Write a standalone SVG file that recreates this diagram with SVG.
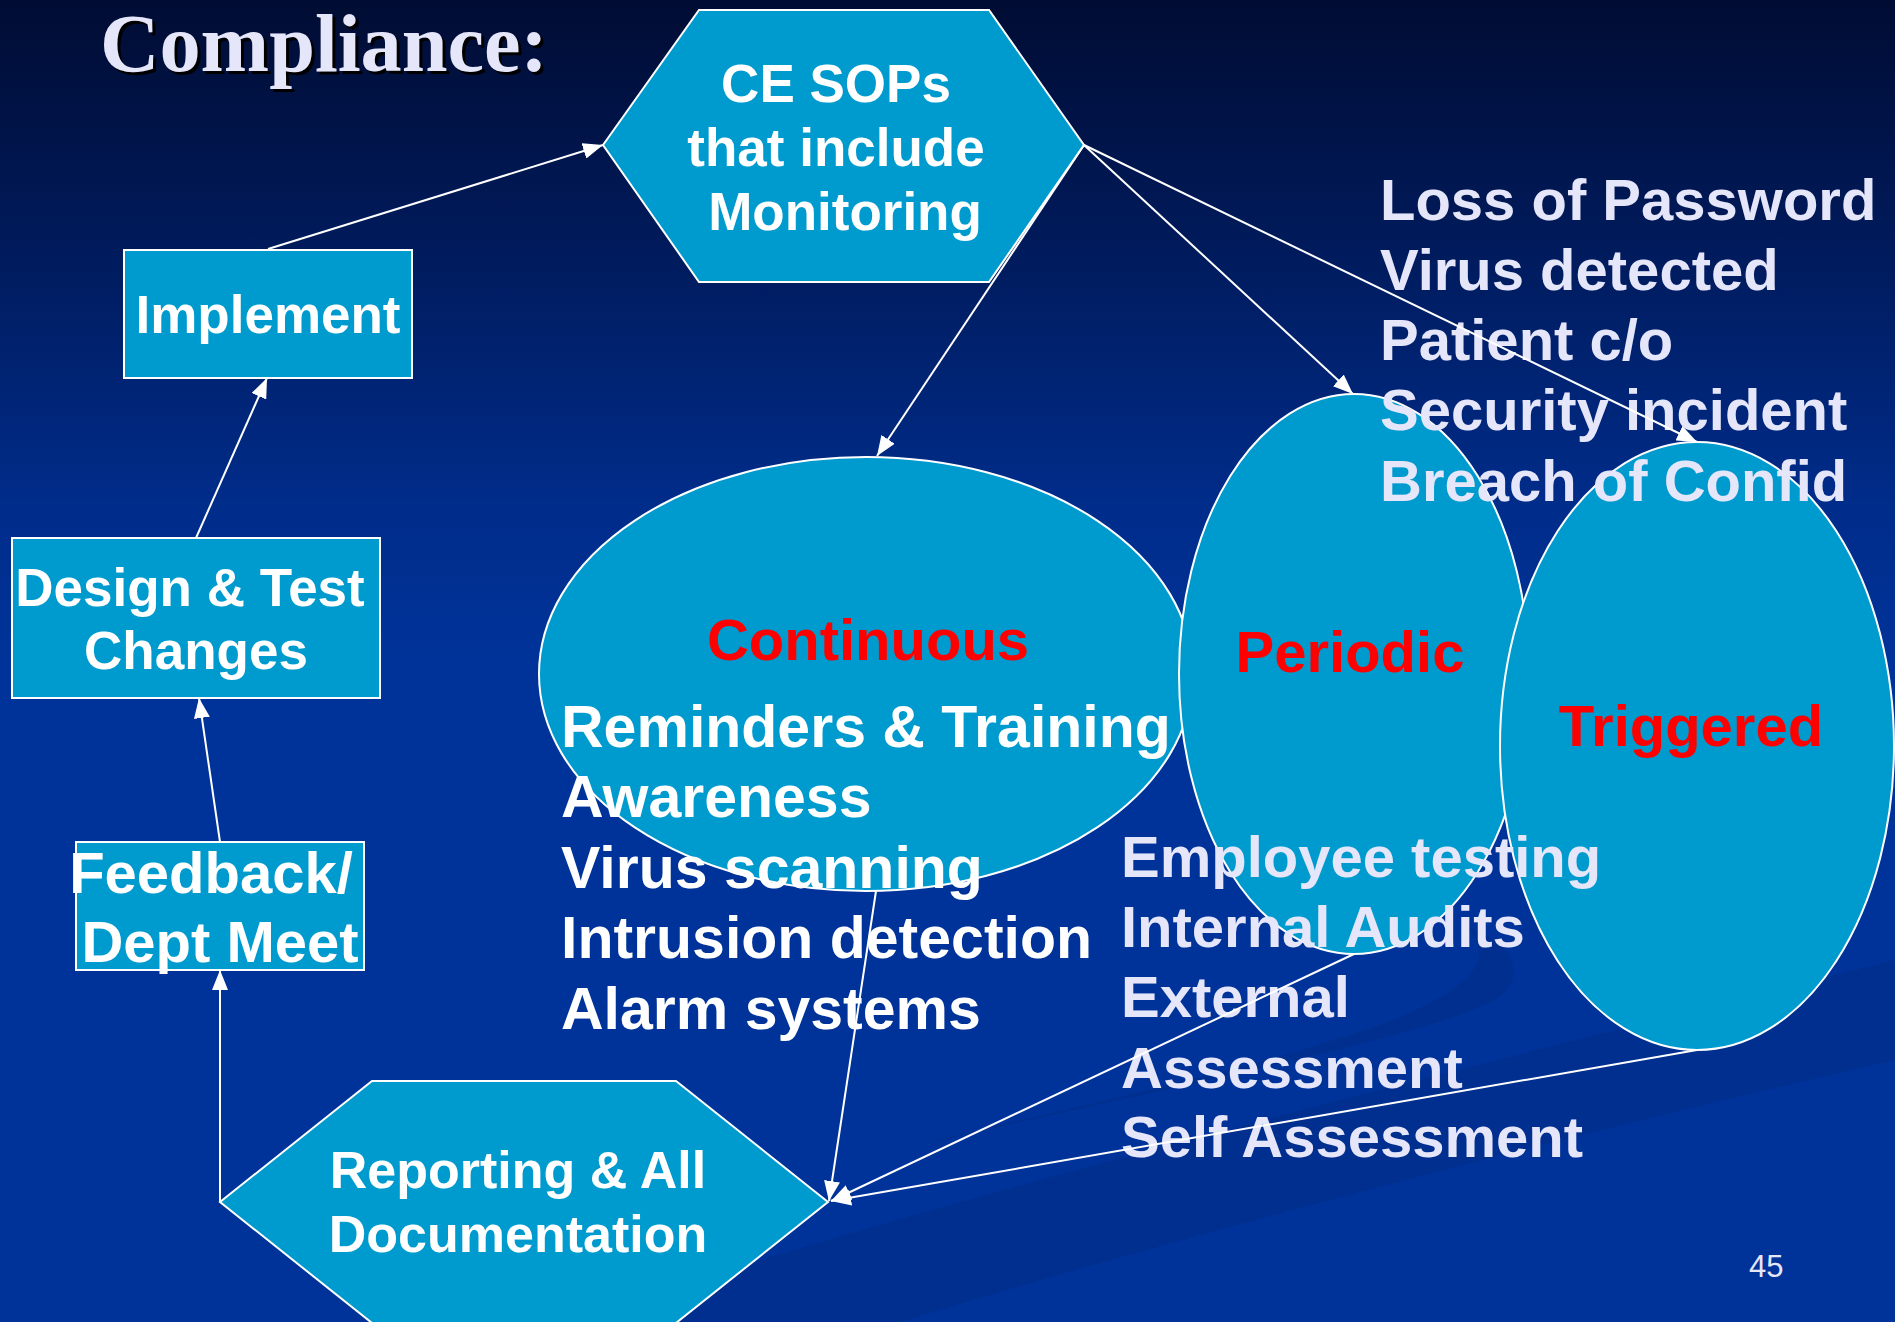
<svg xmlns="http://www.w3.org/2000/svg" width="1895" height="1322" viewBox="0 0 1895 1322">
  <defs>
    <linearGradient id="bg" x1="0" y1="0" x2="0" y2="1">
      <stop offset="0" stop-color="#000C33"/>
      <stop offset="0.18" stop-color="#001A5A"/>
      <stop offset="0.38" stop-color="#002C8A"/>
      <stop offset="0.5" stop-color="#003399"/>
      <stop offset="1" stop-color="#003399"/>
    </linearGradient>
    <marker id="arrow" viewBox="0 0 20 16" refX="20" refY="8" markerWidth="20" markerHeight="16" markerUnits="userSpaceOnUse" orient="auto">
      <path d="M0,0 L20,8 L0,16 Z" fill="#FFFFFF"/>
    </marker>
    <style>
      .shape { fill: #009BCE; stroke: #FFFFFF; stroke-width: 2; }
      .label { font-family: "Liberation Sans", Arial, sans-serif; font-weight: bold; fill: #FFFFFF; text-anchor: middle; }
      .red { font-family: "Liberation Sans", Arial, sans-serif; font-weight: bold; fill: #FF0000; text-anchor: middle; font-size: 58px; }
      .list { font-family: "Liberation Sans", Arial, sans-serif; font-weight: bold; font-size: 59px; fill: #FFFFFF; }
      .lav { font-family: "Liberation Sans", Arial, sans-serif; font-weight: bold; font-size: 58px; fill: #E6E6FA; }
      .conn { stroke: #FFFFFF; stroke-width: 2; fill: none; marker-end: url(#arrow); }
      .title { font-family: "Liberation Serif", "Times New Roman", serif; font-weight: bold; font-size: 82px; }
    </style>
  </defs>

  <!-- background with soft swooshes -->
  <rect x="0" y="0" width="1895" height="1322" fill="url(#bg)"/>
  <path d="M560 1322 C1000 1180 1500 1060 1895 960 L1895 1060 C1500 1150 1100 1260 900 1322 Z" fill="#002C86" opacity="0.55"/>
  <path d="M900 1150 C1150 1090 1420 1040 1495 1000 C1530 975 1515 945 1465 925 C1500 960 1470 990 1380 1025 C1220 1080 1050 1110 900 1150 Z" fill="#002C86" opacity="0.5"/>

  <!-- title with drop shadow -->
  <text class="title" x="103" y="74" fill="#000000" textLength="448" lengthAdjust="spacingAndGlyphs">Compliance:</text>
  <text class="title" x="100" y="71" fill="#E6E6FA" textLength="448" lengthAdjust="spacingAndGlyphs">Compliance:</text>

  <!-- nodes -->
  <g id="ce-sops">
    <polygon class="shape" points="603,145 699,10 989,10 1084,145 989,282 699,282"/>
    <text class="label" font-size="53" x="836" y="102">CE SOPs</text>
    <text class="label" font-size="53" x="836" y="166">that include</text>
    <text class="label" font-size="53" x="845" y="230">Monitoring</text>
  </g>

  <g id="implement">
    <rect class="shape" x="124" y="250" width="288" height="128"/>
    <text class="label" font-size="53" x="268" y="333">Implement</text>
  </g>

  <g id="design-test">
    <rect class="shape" x="12" y="538" width="368" height="160"/>
    <text class="label" font-size="53" x="190" y="606">Design &amp; Test</text>
    <text class="label" font-size="53" x="196" y="669">Changes</text>
  </g>

  <g id="feedback">
    <rect class="shape" x="76" y="842" width="288" height="128"/>
    <text class="label" font-size="58" x="211" y="893">Feedback/</text>
    <text class="label" font-size="58" x="220" y="962">Dept Meet</text>
  </g>

  <g id="reporting">
    <polygon class="shape" points="220,1202 372,1081 676,1081 828,1202 676,1323 372,1323"/>
    <text class="label" font-size="52" x="518" y="1188">Reporting &amp; All</text>
    <text class="label" font-size="52" x="518" y="1252">Documentation</text>
  </g>

  <g id="continuous">
    <ellipse class="shape" cx="866" cy="674" rx="327" ry="217"/>
    <text class="red" x="868" y="660">Continuous</text>
  </g>

  <g id="periodic">
    <ellipse class="shape" cx="1354" cy="674" rx="175" ry="280"/>
    <text class="red" x="1350" y="672">Periodic</text>
  </g>

  <g id="triggered">
    <ellipse class="shape" cx="1697" cy="746" rx="197" ry="304"/>
    <text class="red" x="1691" y="746">Triggered</text>
  </g>

  <!-- item lists -->
  <g id="continuous-items" class="list">
    <text x="561" y="747">Reminders &amp; Training</text>
    <text x="561" y="817">Awareness</text>
    <text x="561" y="888">Virus scanning</text>
    <text x="561" y="958">Intrusion detection</text>
    <text x="561" y="1029">Alarm systems</text>
  </g>

  <g id="triggered-items" class="lav">
    <text x="1380" y="220">Loss of Password</text>
    <text x="1380" y="290">Virus detected</text>
    <text x="1380" y="360">Patient c/o</text>
    <text x="1380" y="430">Security incident</text>
    <text x="1380" y="501">Breach of Confid</text>
  </g>

  <g id="periodic-items" class="lav">
    <text x="1121" y="877">Employee testing</text>
    <text x="1121" y="947">Internal Audits</text>
    <text x="1121" y="1017">External</text>
    <text x="1121" y="1088">Assessment</text>
    <text x="1121" y="1157">Self Assessment</text>
  </g>

  <!-- connectors -->
  <g id="connectors">
    <path class="conn" d="M268 249 L603 145"/>
    <path class="conn" d="M196 538 L267 378"/>
    <path class="conn" d="M220 842 L199 698"/>
    <path class="conn" d="M220 1202 L220 970"/>
    <path class="conn" d="M1084 145 L877 456"/>
    <path class="conn" d="M1084 145 L1353 394"/>
    <path class="conn" d="M1084 145 L1697 442"/>
    <path class="conn" d="M876 891 L829 1201"/>
    <path class="conn" d="M1354 954 L831 1201"/>
    <path class="conn" d="M1697 1050 L831 1201"/>
  </g>

  <!-- slide number -->
  <text x="1749" y="1277" font-family="'Liberation Sans', Arial, sans-serif" font-size="31" fill="#E6E6FA">45</text>
</svg>
